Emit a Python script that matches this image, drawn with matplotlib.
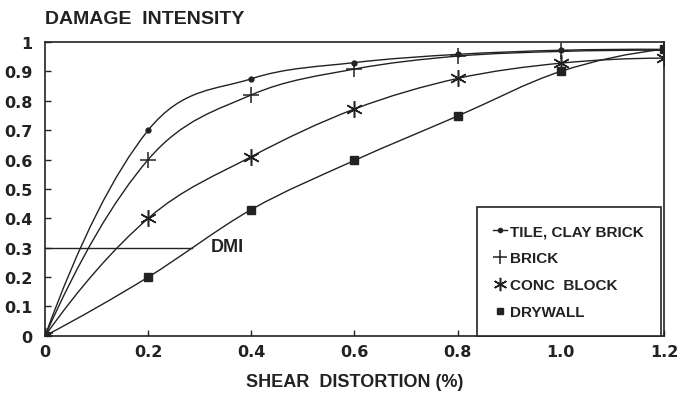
import matplotlib
matplotlib.use('Agg')
import matplotlib.pyplot as plt
from matplotlib.path import Path
from matplotlib.patches import PathPatch
from matplotlib.lines import Line2D
import numpy as np

plt.rcParams['font.family'] = ['Liberation Sans', 'DejaVu Sans']
plt.rcParams['font.weight'] = 'bold'
plt.rcParams['axes.labelweight'] = 'bold'

# ── data ─────────────────────────────────────────────────────────────
shear = [0.0, 0.2, 0.4, 0.6, 0.8, 1.0, 1.2]
tile  = [0.0, 0.70, 0.875, 0.93, 0.958, 0.972, 0.975]
brick = [0.0, 0.60, 0.82, 0.908, 0.952, 0.968, 0.972]
conc  = [0.0, 0.40, 0.61, 0.772, 0.876, 0.928, 0.945]
dry   = [0.0, 0.20, 0.43, 0.597, 0.748, 0.90, 0.975]

ink = '#222222'
series = [
    ('TILE, CLAY BRICK', tile,  dict(marker='o', ms=3.5, mfc=ink, mec=ink)),
    ('BRICK',            brick, dict(marker='+', ms=12, mew=1.1)),
    ('CONC  BLOCK',      conc,  dict(marker=(6, 2, 0), ms=12, mew=1.1)),
    ('DRYWALL',          dry,   dict(marker='s', ms=6, mfc=ink, mec=ink)),
]
xticks = [0, 0.2, 0.4, 0.6, 0.8, 1.0, 1.2]
xtick_labels = ['0', '0.2', '0.4', '0.6', '0.8', '1.0', '1.2']
yticks = [0, 0.1, 0.2, 0.3, 0.4, 0.5, 0.6, 0.7, 0.8, 0.9, 1.0]
ytick_labels = ['0', '0.1', '0.2', '0.3', '0.4', '0.5', '0.6', '0.7', '0.8', '0.9', '1']
dmi_level, dmi_end = 0.3, 0.284


def smooth_path(x, y):
    # cubic hermite curve through the points, parabolic end tangents
    pts = np.column_stack([np.asarray(x, float), np.asarray(y, float)])
    n = len(pts)
    m = np.zeros_like(pts)
    for i in range(1, n - 1):
        m[i] = (pts[i + 1] - pts[i - 1]) / 2.0
    m[0] = 2 * (pts[1] - pts[0]) - m[1]
    m[-1] = 2 * (pts[-1] - pts[-2]) - m[-2]
    verts = [pts[0]]
    codes = [Path.MOVETO]
    for i in range(n - 1):
        verts += [pts[i] + m[i] / 3.0, pts[i + 1] - m[i + 1] / 3.0, pts[i + 1]]
        codes += [Path.CURVE4] * 3
    return Path(verts, codes)


fig = plt.figure(figsize=(6.83, 4.02), dpi=100)
ax = fig.add_axes([0.066, 0.162, 0.906, 0.731])

handles = []
for label, ys, st in series:
    ax.add_patch(PathPatch(smooth_path(shear, ys), fill=False, ec=ink, lw=1.0))
    ax.plot(shear, ys, ls='none', color=ink, **st)
    hs = dict(st)
    if hs['marker'] == 'o':
        hs['ms'] = 3
    else:
        hs['ms'] = hs['ms'] * 0.8
    handles.append(Line2D([], [], ls='-' if label.startswith('TILE') else 'none',
                          lw=1.0, color=ink, label=label, **hs))

ax.plot([0, dmi_end], [dmi_level, dmi_level], color=ink, lw=1.0)
ax.text(0.322, dmi_level + 0.005, 'DMI', fontsize=13, va='center', ha='left', color=ink)

ax.set_xlim(0, 1.2)
ax.set_ylim(0, 1.0)
ax.set_xticks(xticks)
ax.set_xticklabels(xtick_labels)
ax.set_yticks(yticks)
ax.set_yticklabels(ytick_labels)
ax.tick_params(direction='in', length=4, width=1, colors=ink)
ax.tick_params(axis='y', pad=9)
ax.tick_params(axis='x', pad=6)
for t in ax.get_xticklabels() + ax.get_yticklabels():
    t.set_fontfamily('DejaVu Sans')
    t.set_fontsize(11.5)
    t.set_fontweight('bold')
for sp in ax.spines.values():
    sp.set_linewidth(1.2)
    sp.set_color(ink)

fig.text(0.066, 0.93, 'DAMAGE  INTENSITY', fontsize=14, color=ink, ha='left', va='bottom')
ax.set_xlabel('SHEAR  DISTORTION (%)', fontsize=13, color=ink, labelpad=10)

leg = ax.legend(handles=handles, loc='lower right', bbox_to_anchor=(0.995, 0.0), fontsize=11,
                handlelength=0.9, handletextpad=0.2, labelspacing=0.85,
                borderpad=1.1, fancybox=False, framealpha=1, edgecolor=ink,
                borderaxespad=0.0)
leg.get_frame().set_linewidth(1.2)
for t in leg.get_texts():
    t.set_color(ink)

fig.savefig('out.png', dpi=100, facecolor='white')
